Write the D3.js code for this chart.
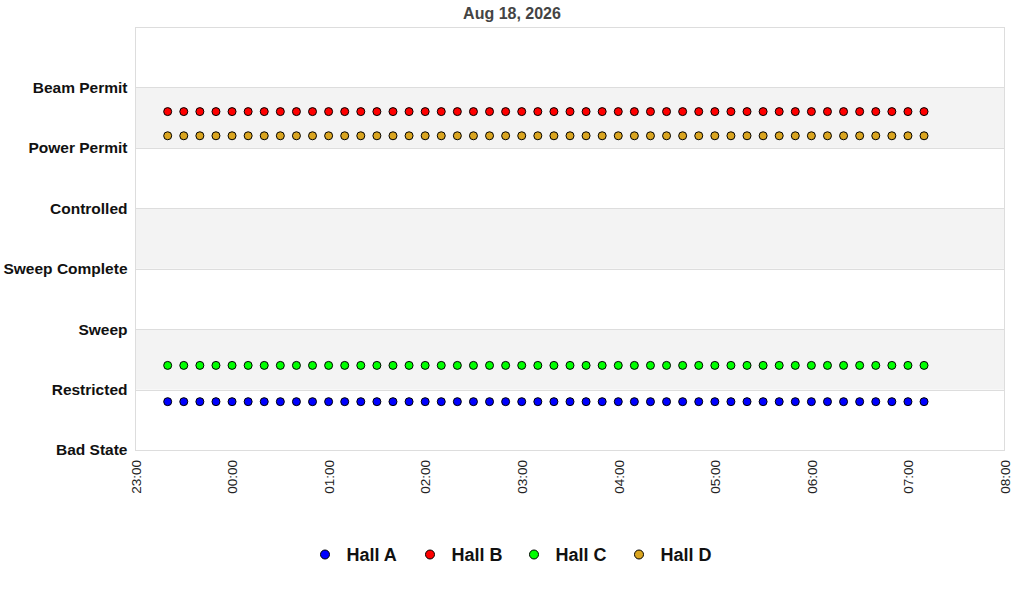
<!DOCTYPE html>
<html>
<head>
<meta charset="utf-8">
<script src="https://cdn.jsdelivr.net/npm/d3@7"></script>
<style>
  html, body { margin: 0; padding: 0; background: #fff; }
  svg { display: block; font-family: "Liberation Sans", Arial, sans-serif; }
</style>
</head>
<body>
<svg id="chart" width="1024" height="600"></svg>
<script>
// ---- data ----
const title = "Aug 18, 2026";
const states = ["Bad State", "Restricted", "Sweep", "Sweep Complete", "Controlled", "Power Permit", "Beam Permit"];
const xTickLabels = ["23:00", "00:00", "01:00", "02:00", "03:00", "04:00", "05:00", "06:00", "07:00", "08:00"];
const times = [
  "23:20", "23:30", "23:40", "23:50",
  "00:00", "00:10", "00:20", "00:30", "00:40", "00:50",
  "01:00", "01:10", "01:20", "01:30", "01:40", "01:50",
  "02:00", "02:10", "02:20", "02:30", "02:40", "02:50",
  "03:00", "03:10", "03:20", "03:30", "03:40", "03:50",
  "04:00", "04:10", "04:20", "04:30", "04:40", "04:50",
  "05:00", "05:10", "05:20", "05:30", "05:40", "05:50",
  "06:00", "06:10", "06:20", "06:30", "06:40", "06:50",
  "07:00", "07:10"
];
const seriesNames = ["Hall A", "Hall B", "Hall C", "Hall D"];
const seriesColors = ["#0000ff", "#ff0000", "#00ff00", "#daa520"];
const hallA = [0.8,0.8,0.8,0.8,0.8,0.8,0.8,0.8,0.8,0.8,0.8,0.8,0.8,0.8,0.8,0.8,0.8,0.8,0.8,0.8,0.8,0.8,0.8,0.8,0.8,0.8,0.8,0.8,0.8,0.8,0.8,0.8,0.8,0.8,0.8,0.8,0.8,0.8,0.8,0.8,0.8,0.8,0.8,0.8,0.8,0.8,0.8,0.8];
const hallB = [5.6,5.6,5.6,5.6,5.6,5.6,5.6,5.6,5.6,5.6,5.6,5.6,5.6,5.6,5.6,5.6,5.6,5.6,5.6,5.6,5.6,5.6,5.6,5.6,5.6,5.6,5.6,5.6,5.6,5.6,5.6,5.6,5.6,5.6,5.6,5.6,5.6,5.6,5.6,5.6,5.6,5.6,5.6,5.6,5.6,5.6,5.6,5.6];
const hallC = [1.4,1.4,1.4,1.4,1.4,1.4,1.4,1.4,1.4,1.4,1.4,1.4,1.4,1.4,1.4,1.4,1.4,1.4,1.4,1.4,1.4,1.4,1.4,1.4,1.4,1.4,1.4,1.4,1.4,1.4,1.4,1.4,1.4,1.4,1.4,1.4,1.4,1.4,1.4,1.4,1.4,1.4,1.4,1.4,1.4,1.4,1.4,1.4];
const hallD = [5.2,5.2,5.2,5.2,5.2,5.2,5.2,5.2,5.2,5.2,5.2,5.2,5.2,5.2,5.2,5.2,5.2,5.2,5.2,5.2,5.2,5.2,5.2,5.2,5.2,5.2,5.2,5.2,5.2,5.2,5.2,5.2,5.2,5.2,5.2,5.2,5.2,5.2,5.2,5.2,5.2,5.2,5.2,5.2,5.2,5.2,5.2,5.2];
const seriesValues = [hallA, hallB, hallC, hallD];

// ---- helpers ----
function toDate(hm) {
  const [h, m] = hm.split(":").map(Number);
  const day = h >= 12 ? 17 : 18;
  return new Date(2026, 7, day, h, m);
}

// ---- layout ----
const svg = d3.select("#chart");
const margin = { left: 135.5, right: 20, top: 27, bottom: 150 };
const W = 1024, H = 600;
const x0 = 135.5, x1 = 1004.5, y0 = 450, y1 = 27;

const xTickDates = xTickLabels.map(toDate);
const x = d3.scaleTime().domain([xTickDates[0], xTickDates[xTickDates.length - 1]]).range([x0, x1]);
const y = d3.scaleLinear().domain([0, 7]).range([y0, y1]);

// title
svg.append("text")
  .attr("x", 512).attr("y", 19)
  .attr("text-anchor", "middle")
  .attr("font-size", "16px").attr("font-weight", "bold")
  .attr("fill", "#444")
  .text(title);

// bands
const g = svg.append("g");
for (let i = 0; i < 7; i++) {
  g.append("rect")
    .attr("x", x0).attr("width", x1 - x0)
    .attr("y", y(i + 1)).attr("height", y(i) - y(i + 1))
    .attr("fill", i % 2 === 1 ? "#f3f3f3" : "#ffffff");
}
// horizontal grid lines at each state
states.forEach((s, i) => {
  g.append("line")
    .attr("x1", x0).attr("x2", x1)
    .attr("y1", Math.round(y(i)) + 0.5).attr("y2", Math.round(y(i)) + 0.5)
    .attr("stroke", "#dddddd").attr("stroke-width", 1);
});
// border
g.append("rect")
  .attr("x", x0).attr("y", y1 + 0.5)
  .attr("width", x1 - x0).attr("height", y0 - y1)
  .attr("fill", "none").attr("stroke", "#dddddd").attr("stroke-width", 1);

// y axis labels
const yAxis = d3.axisLeft(y)
  .tickValues(d3.range(states.length))
  .tickFormat(i => states[i])
  .tickSize(0).tickPadding(8);
const ya = svg.append("g").attr("transform", `translate(${x0},0)`).call(yAxis);
ya.select(".domain").remove();
ya.selectAll("text")
  .attr("font-family", "'Liberation Sans', Arial, sans-serif")
  .attr("font-size", "15.5px").attr("font-weight", "bold").attr("fill", "#111");

// x axis labels
const xAxis = d3.axisBottom(x)
  .tickValues(xTickDates)
  .tickFormat((d, i) => xTickLabels[i])
  .tickSize(0).tickPadding(0);
const xa = svg.append("g").attr("transform", `translate(0,${y0})`).call(xAxis);
xa.select(".domain").remove();
xa.selectAll("text")
  .attr("font-family", "'Liberation Sans', Arial, sans-serif")
  .attr("font-size", "13.5px").attr("fill", "#222")
  .attr("transform", "rotate(-90)")
  .attr("text-anchor", "end")
  .attr("x", -10).attr("y", 0).attr("dy", "0.35em");

// points
seriesValues.forEach((vals, si) => {
  svg.append("g").selectAll("circle")
    .data(vals.map((v, i) => ({ t: toDate(times[i]), v })))
    .join("circle")
    .attr("cx", d => x(d.t))
    .attr("cy", d => y(d.v))
    .attr("r", 4)
    .attr("fill", seriesColors[si])
    .attr("stroke", "#000").attr("stroke-width", 1);
});

// legend
const legendX = [325, 430, 534, 639];
const lg = svg.append("g");
seriesNames.forEach((name, i) => {
  lg.append("circle")
    .attr("cx", legendX[i]).attr("cy", 554.5).attr("r", 4.5)
    .attr("fill", seriesColors[i]).attr("stroke", "#000").attr("stroke-width", 1);
  lg.append("text")
    .attr("x", legendX[i] + 21.5).attr("y", 554.5).attr("dy", "0.35em")
    .attr("font-size", "18px").attr("font-weight", "bold").attr("fill", "#111")
    .text(name);
});
</script>
</body>
</html>
